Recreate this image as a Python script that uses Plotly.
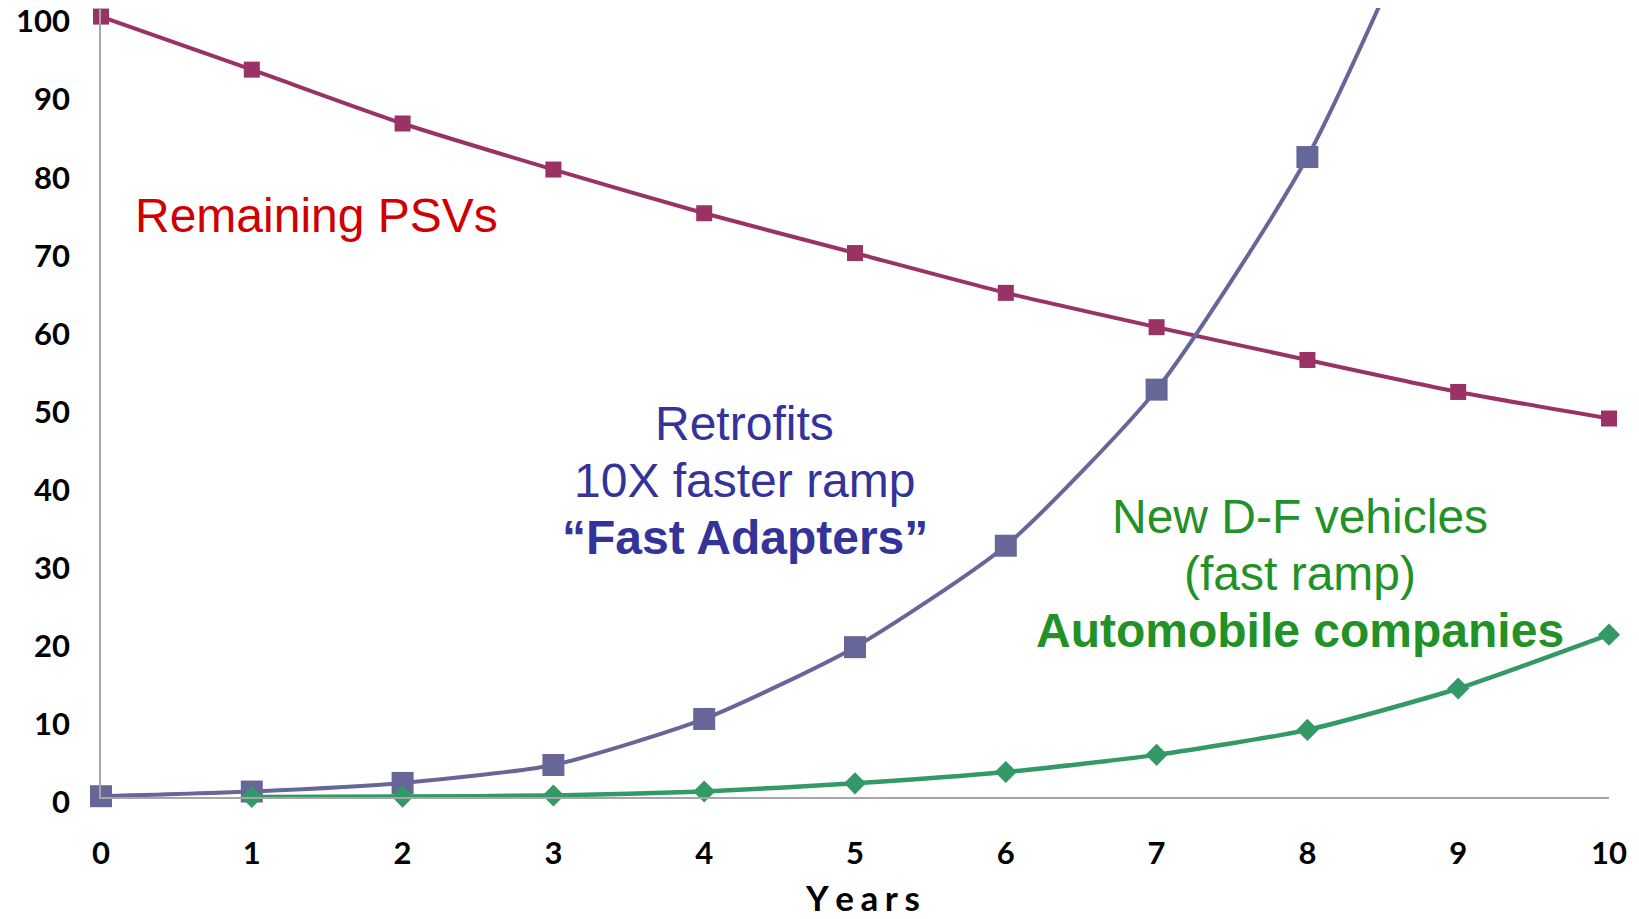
import plotly.graph_objects as go

years = [0, 1, 2, 3, 4, 5, 6, 7, 8, 9, 10]
remaining_psv = [100, 93.2, 86.3, 80.4, 74.8, 69.7, 64.6, 60.2, 56.0, 51.9, 48.5]
retrofits = [0.1, 0.7, 1.8, 4.1, 10.0, 19.2, 32.2, 52.2, 82.0, 125, 185]
new_df_years = [1, 2, 3, 4, 5, 6, 7, 8, 9, 10]
new_df = [0.0, 0.05, 0.2, 0.7, 1.75, 3.2, 5.4, 8.6, 13.9, 20.8]

tick_font = dict(family="Lato, 'Open Sans', sans-serif", size=31, color="black", weight="bold")
label_font = "Liberation Sans, Arial, sans-serif"

fig = go.Figure()
fig.add_trace(go.Scatter(x=years, y=remaining_psv, mode="lines+markers",
                         line=dict(color="#993366", width=4, shape="spline", smoothing=0.6),
                         marker=dict(symbol="square", size=16, color="#993366"),
                         cliponaxis=False))
fig.add_trace(go.Scatter(x=years, y=retrofits, mode="lines+markers",
                         line=dict(color="#666699", width=4, shape="spline", smoothing=0.6),
                         marker=dict(symbol="square", size=22, color="#666699"),
                         cliponaxis=False))
fig.add_trace(go.Scatter(x=new_df_years, y=new_df, mode="lines+markers",
                         line=dict(color="#339966", width=4.5, shape="spline", smoothing=0.6),
                         marker=dict(symbol="diamond", size=17, color="#339966"),
                         cliponaxis=False))

# text labels on the chart
notes = [
    ("Remaining PSVs", 1.43, 74.5, "#D00000", False),
    ("Retrofits", 4.27, 47.9, "#333399", False),
    ("10X faster ramp", 4.27, 40.6, "#333399", False),
    ("\u201cFast Adapters\u201d", 4.27, 33.3, "#333399", True),
    ("New D-F vehicles", 7.95, 36.0, "#229126", False),
    ("(fast ramp)", 7.95, 28.6, "#229126", False),
    ("Automobile companies", 7.95, 21.3, "#229126", True),
]
for text, x, y, color, bold in notes:
    fig.add_annotation(x=x, y=y, text=text, showarrow=False, xanchor="center", yanchor="middle",
                       font=dict(family=label_font, size=48, color=color,
                                 weight="bold" if bold else "normal"))

# x axis title, a bit right of centre as in the original
fig.add_annotation(x=0.505, y=-0.127, xref="paper", yref="paper",
                   text="Y\u2009\u200ae\u2009\u200aa\u2009\u200ar\u2009\u200as", showarrow=False,
                   xanchor="center", yanchor="middle",
                   font=dict(family="Lato, 'Open Sans', sans-serif", size=35,
                             color="black", weight="bold"))

# page body has an 8px margin, so the figure is a little smaller than the window
fig.update_layout(
    width=1631, height=911,
    margin=dict(l=93, r=30, t=0, b=122),
    plot_bgcolor="white", paper_bgcolor="white",
    showlegend=False,
)
fig.update_xaxes(range=[0, 10], tickvals=years, showgrid=False, zeroline=False,
                 showline=True, linecolor="#A6A6A6", linewidth=1.5, automargin=False,
                 tickfont=tick_font, ticklabelstandoff=28, ticklabeloverflow="allow")
fig.update_yaxes(range=[0, 101.1], tickvals=list(range(0, 101, 10)), showgrid=False,
                 zeroline=False, showline=True, linecolor="#A6A6A6", linewidth=1.5,
                 automargin=False, ticklabelshift=5,
                 tickfont=tick_font, ticklabelstandoff=23, ticklabeloverflow="allow")

fig.write_html("out.html")
